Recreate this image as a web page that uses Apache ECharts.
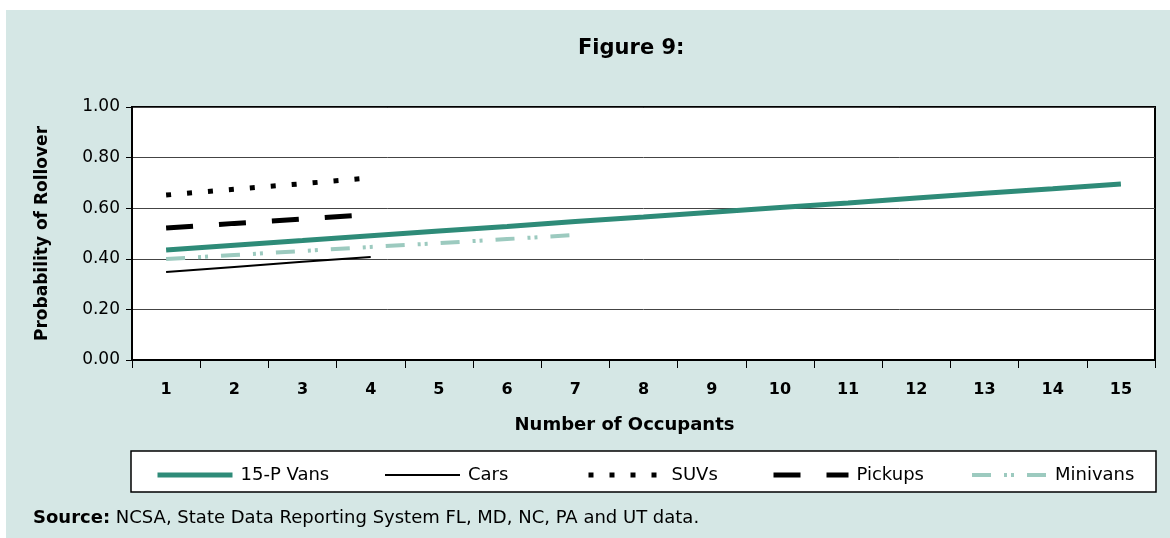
<!DOCTYPE html>
<html>
<head>
<meta charset="utf-8">
<script src="https://cdn.jsdelivr.net/npm/echarts@6/dist/echarts.min.js"></script>
<style>
html,body{margin:0;padding:0;background:#ffffff;}
#chart{width:1170px;height:538px;}
</style>
</head>
<body>
<div id="chart"></div>
<script>
// ---- Data ----
const categories = ['1','2','3','4','5','6','7','8','9','10','11','12','13','14','15'];
const vans15P = [0.435,0.454,0.472,0.491,0.510,0.528,0.547,0.565,0.584,0.603,0.621,0.640,0.659,0.677,0.696];
const cars = [0.348,0.368,0.388,0.407];
const suvs = [0.652,0.675,0.697,0.720];
const pickups = [0.522,0.540,0.557,0.575];
const minivans = [0.399,0.415,0.431,0.447,0.462,0.478,0.494];
const yTicks = [0, 0.2, 0.4, 0.6, 0.8, 1.0];

const FONT = 'DejaVu Sans';
const TEAL = '#2e8b78';
const LTEAL = '#9ccabf';
const BG = '#d5e7e5';

const chart = echarts.init(document.getElementById('chart'), null, {renderer:'canvas'});

function legendAt(name, left, lineStyle){
  return {
    data:[name], left:left, top:461, itemWidth:75, itemHeight:16,
    textStyle:{fontFamily:FONT, fontSize:18, color:'#000', padding:[0,0,0,3]},
    lineStyle: lineStyle,
    itemStyle:{opacity:0, borderWidth:0},
    selectedMode:false
  };
}

const option = {
  backgroundColor:'#ffffff',
  animation:false,
  title:{
    text:'Figure 9:', left:573, top:33,
    textStyle:{fontFamily:FONT, fontSize:21, fontWeight:'bold', color:'#000'}
  },
  graphic:[
    {type:'rect', shape:{x:6,y:10,width:1164,height:528}, style:{fill:BG}, z:-10, silent:true},
    {type:'rect', shape:{x:131,y:451,width:1025,height:41}, style:{fill:'#fff', stroke:'#000', lineWidth:1.5}, z:-5, silent:true},
    {type:'text', left:33, top:509, style:{
      text:'{b|Source:} NCSA, State Data Reporting System FL, MD, NC, PA and UT data.',
      rich:{b:{fontFamily:FONT, fontSize:18, fontWeight:'bold', fill:'#000'}},
      fontFamily:FONT, fontSize:18, fill:'#000'
    }}
  ],
  legend:[
    legendAt('15-P Vans', 150, {width:5}),
    legendAt('Cars', 379, {width:2}),
    legendAt('SUVs', 581, {width:5}),
    legendAt('Pickups', 766, {width:5}),
    legendAt('Minivans', 965, {width:4})
  ],
  grid:{
    left:132, right:15, top:107, bottom:178,
    show:true, backgroundColor:'#fff', borderColor:'#000', borderWidth:2
  },
  xAxis:{
    type:'category', data:categories, boundaryGap:true,
    name:'Number of Occupants', nameLocation:'middle', nameGap:56,
    nameTextStyle:{fontFamily:FONT, fontSize:18, fontWeight:'bold', color:'#000', padding:[0,38,0,0]},
    axisLine:{lineStyle:{color:'#000', width:2}},
    axisTick:{show:true, length:8, lineStyle:{color:'#000', width:1}},
    axisLabel:{fontFamily:FONT, fontSize:16, fontWeight:'bold', color:'#000', margin:22},
    splitLine:{show:false}
  },
  yAxis:{
    type:'value', min:0, max:1, interval:0.2,
    name:'Probability of Rollover', nameLocation:'middle', nameGap:81,
    nameTextStyle:{fontFamily:FONT, fontSize:17, fontWeight:'bold', color:'#000'},
    axisLine:{show:true, lineStyle:{color:'#000', width:2}},
    axisTick:{show:true, length:6, lineStyle:{color:'#000'}},
    axisLabel:{fontFamily:FONT, fontSize:17, color:'#000', margin:12,
      formatter:function(v){ return v.toFixed(2); }},
    splitLine:{show:true, lineStyle:{color:'#444', width:1}}
  },
  series:[
    {name:'15-P Vans', type:'line', data:vans15P, symbol:'none', color:TEAL,
      lineStyle:{color:TEAL, width:5, cap:'butt'}},
    {name:'Cars', type:'line', data:cars, symbol:'none', color:'#000',
      lineStyle:{color:'#000', width:2}},
    {name:'SUVs', type:'line', data:suvs, symbol:'none', color:'#000',
      lineStyle:{color:'#000', width:5, type:[5,16], cap:'butt'}},
    {name:'Pickups', type:'line', data:pickups, symbol:'none', color:'#000',
      lineStyle:{color:'#000', width:5, type:[27,26], cap:'butt'}},
    {name:'Minivans', type:'line', data:minivans, symbol:'none', color:LTEAL,
      lineStyle:{color:LTEAL, width:4, type:[19,13,3,4,3,13], cap:'butt'}}
  ]
};
chart.setOption(option);
</script>
</body>
</html>
